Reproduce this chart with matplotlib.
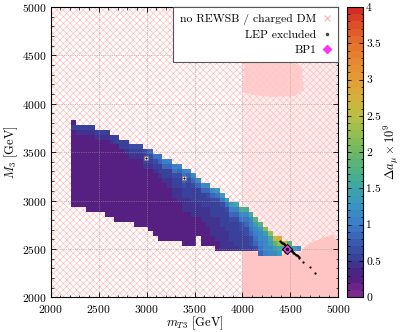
import numpy as np
import matplotlib
matplotlib.use('Agg')
import matplotlib.pyplot as plt
from matplotlib.colors import LinearSegmentedColormap, BoundaryNorm
from matplotlib.patches import Rectangle, Polygon
from matplotlib.lines import Line2D
from matplotlib.ticker import MultipleLocator, FuncFormatter

plt.rcParams['font.family'] = 'serif'
plt.rcParams['font.serif'] = ['cmr10']
plt.rcParams['mathtext.fontset'] = 'cm'
plt.rcParams['axes.formatter.use_mathtext'] = True
plt.rcParams['hatch.linewidth'] = 0.45
plt.rcParams['font.size'] = 8.5

# ---------------- data ----------------
# scan cells: m_T3 column centres and M3 row centres (GeV), 50 GeV cells
mT3_cells = np.arange(2240, 4591, 50)          # 48 columns
M3_cells = np.arange(3805, 2454, -50)          # 28 rows (top -> bottom)

# first filled row (from the top) in every column
col_first = [0, 1, 1, 1, 1, 2, 2, 2, 3, 3, 4, 4, 5, 5, 5, 6, 6, 7, 7, 8, 8, 9, 9, 10,
             10, 11, 12, 13, 13, 14, 14, 15, 16, 17, 17, 18, 18, 19, 20, 21, 22, 23, 24, 24,
             25, 25, 26, 26]
# Delta a_mu x 1e9 per column, top -> bottom ; '0'-'9' = 0.0-0.9, 'a'.. = 1.0, 1.1, ...
col_vals = [
    "353222222222222222", "54322222222222222", "54322222222222222",
    "543222222222222222", "543222222222222222", "54322222222222222",
    "54322222222222222", "643222222222222222", "64322222222222222",
    "653222222222222222", "65322222222222222", "65432222222222222",
    "7543222222222222", "75432222222222222", "76432222222222222",
    "7654322222222222", "87543322222222222", "97543332222222222",
    "986543332222222222", "a8654333222222222", "a8654433322222222",
    "a976544333322222", "a876544433332222", "a987654443333322",
    "b876554443333332", "b87655444333333", "b86554443333",
    "b865544433333", "c875544443333", "c87655444433",
    "d976554444433", "d97655544444", "e9766554444",
    "ea87655544", "fa87665554", "gb9776655",
    "hb9877665", "hca98776", "idba987",
    "jdcba98", "leccba", "mfdcb",
    "pidc", "tmfd", "qg", "jf", "e", "c",
]

# LEP excluded points (GeV)
lep_x = [2998, 3393,
         4395, 4405, 4415, 4425, 4435, 4445, 4455, 4465, 4475, 4485, 4495, 4505,
         4515, 4525, 4535, 4545, 4555, 4565, 4575, 4585, 4595,
         4430, 4450, 4470, 4490, 4510, 4530,
         4440, 4455, 4634, 4707, 4760]
lep_y = [3438, 3232,
         2582, 2573, 2565, 2556, 2547, 2538, 2530, 2521, 2512, 2503, 2494, 2485,
         2477, 2468, 2459, 2450, 2441, 2433, 2424, 2415, 2406,
         2548, 2530, 2512, 2495, 2477, 2460,
         2470, 2478, 2365, 2313, 2250]
# cells without a value (white)
hole_x = [2998, 3393]
hole_y = [3438, 3232]

# densely scanned 'no REWSB / charged DM' areas
dense_x = [4000, 4000, 4300, 4600, 4650, 4750, 4850, 4960, 4960, 5000, 5000]
dense_y = [2000, 2480, 2460, 2440, 2520, 2580, 2620, 2650, 2600, 2600, 2000]
blob_x = [4000, 4020, 4200, 4450, 4620, 4640, 4550, 4300, 4100]
blob_y = [4120, 4420, 4470, 4460, 4380, 4150, 4080, 4070, 4090]
dense_region_xmin = 4000

bp1_x, bp1_y = 4467, 2499

cbar_ticks = [0, 0.5, 1, 1.5, 2, 2.5, 3, 3.5, 4]

# ---------------- build field ----------------
def code(ch):
    if ch.isdigit():
        return int(ch) / 10.0
    return 1.0 + (ord(ch) - ord('a')) / 10.0

V = np.full((len(M3_cells), len(mT3_cells)), np.nan)
for i, (f, s) in enumerate(zip(col_first, col_vals)):
    for k, ch in enumerate(s):
        if f + k < len(M3_cells):
            V[f + k, i] = code(ch)

x_edges = np.append(mT3_cells - 25, mT3_cells[-1] + 25)
y_asc = M3_cells[::-1]
y_edges = np.append(y_asc - 25, y_asc[-1] + 25)
Va = np.ma.masked_invalid(V[::-1])

anchors = [
    (0.0, '#7b2a8f'), (0.0625, '#4e1e80'), (0.125, '#393f99'), (0.1875, '#3a5db4'),
    (0.25, '#3c7ecb'), (0.3125, '#3a95c2'), (0.375, '#3ca7a6'), (0.4375, '#50b183'),
    (0.5, '#6db766'), (0.5625, '#93bd52'), (0.625, '#b8c045'), (0.6875, '#d4b23c'),
    (0.75, '#e39e37'), (0.8125, '#e78b33'), (0.875, '#e6752e'), (0.9375, '#e0552a'),
    (1.0, '#d42d26'),
]
cmap = LinearSegmentedColormap.from_list('amu', anchors, N=40)
norm = BoundaryNorm(np.linspace(0, 4, 41), cmap.N)

# ---------------- figure ----------------
fig = plt.figure(figsize=(4.07, 3.32), dpi=100)
ax = fig.add_axes([0.1246, 0.1045, 0.7066, 0.8745])
cax = fig.add_axes([0.8533, 0.1045, 0.0393, 0.8745])

pink = '#ffb8b8'
ax.add_patch(Rectangle((2000, 2000), 3000, 3000, fill=False, hatch='xxxxx',
                       edgecolor=pink, lw=0, zorder=0))
ax.add_patch(Rectangle((dense_region_xmin, 2000), 5000 - dense_region_xmin, 3000,
                       facecolor='#ffc8c8', alpha=0.3, lw=0, zorder=0.5))
ax.add_patch(Polygon(np.column_stack([dense_x, dense_y]), closed=True,
                     facecolor='#ffc4c4', lw=0, zorder=0.6))
ax.add_patch(Polygon(np.column_stack([blob_x, blob_y]), closed=True,
                     facecolor='#ffc8c8', alpha=0.85, lw=0, zorder=0.6))

mesh = ax.pcolormesh(x_edges, y_edges, Va, cmap=cmap, norm=norm, zorder=2)

ax.plot(hole_x, hole_y, ls='none', marker='s', ms=3.4, mfc='white', mec='#777777',
        mew=0.5, zorder=3)
ax.plot(lep_x, lep_y, ls='none', marker='o', ms=1.6, color='black', mew=0, zorder=4)
ax.plot([bp1_x], [bp1_y], ls='none', marker='D', ms=5, mfc='#ff33ff', mec='black',
        mew=0.8, zorder=5)
ax.plot([bp1_x], [bp1_y], ls='none', marker='o', ms=1.5, color='black', zorder=6)

ax.set_xlim(2000, 5000)
ax.set_ylim(2000, 5000)
ax.xaxis.set_major_locator(MultipleLocator(500))
ax.yaxis.set_major_locator(MultipleLocator(500))
ax.xaxis.set_minor_locator(MultipleLocator(100))
ax.yaxis.set_minor_locator(MultipleLocator(100))
ax.tick_params(which='both', direction='in', top=True, right=True, labelsize=8.3)
ax.tick_params(axis='x', which='both', pad=4)
ax.tick_params(axis='y', which='both', pad=3)
ax.tick_params(which='major', length=3.5, width=0.6)
ax.tick_params(which='minor', length=1.8, width=0.5)
ax.grid(True, which='major', ls=':', lw=0.5, color='#999999', zorder=7)
ax.set_axisbelow(False)
for sp in ax.spines.values():
    sp.set_linewidth(0.8)
    sp.set_zorder(8)
ax.set_xlabel(r'$m_{T3}$ [GeV]', fontsize=9, labelpad=0)
ax.set_ylabel(r'$M_3$ [GeV]', fontsize=9, labelpad=1)

handles = [
    Line2D([], [], ls='none', marker='x', color='#ffb0b0', ms=4, mew=0.8),
    Line2D([], [], ls='none', marker='o', color='#444444', ms=1.5),
    Line2D([], [], ls='none', marker='D', color='#ff33ff', ms=4),
]
labels = ['no REWSB / charged DM', 'LEP excluded', 'BP1']
leg = ax.legend(handles, labels, loc='upper right', markerfirst=False, fancybox=False,
                framealpha=1, edgecolor='#555555', borderaxespad=0, fontsize=8.4,
                handlelength=0.8, handletextpad=0.5, borderpad=0.6, labelspacing=0.4)
leg.get_frame().set_linewidth(0.8)
leg.set_zorder(10)

cb = fig.colorbar(mesh, cax=cax, ticks=cbar_ticks)
cb.ax.yaxis.set_minor_locator(MultipleLocator(0.1))
cb.ax.yaxis.set_major_formatter(FuncFormatter(lambda v, p: '%g' % v))
cb.ax.tick_params(which='both', direction='in', left=True, right=True, labelsize=8.3, pad=2)
cb.ax.tick_params(which='major', length=3, width=0.6)
cb.ax.tick_params(which='minor', length=1.8, width=0.5)
cb.outline.set_linewidth(0.8)
cb.set_label(r'$\Delta a_\mu \times 10^9$', fontsize=9, labelpad=1)

fig.savefig('out.png', dpi=100)
